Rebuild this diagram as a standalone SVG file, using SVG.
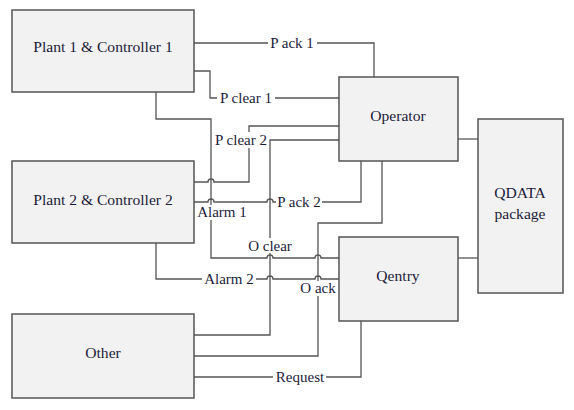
<svg xmlns="http://www.w3.org/2000/svg" width="574" height="410" viewBox="0 0 574 410">
<style>
.box{fill:#f2f2f2;stroke:#555;stroke-width:1.5}
.t{font-family:"Liberation Serif",serif;font-size:15px;fill:#1c1c3a;text-anchor:middle}
.bt{font-size:15.6px}
.ln{fill:none;stroke:#555;stroke-width:1.3}
.bg{fill:#fff}
</style>
<rect width="574" height="410" fill="#fff"/>
<g id="connectors">
<path class="ln" d="M194,43 H374 V77"/>
<path class="ln" d="M194,71 H210 V98 H339"/>
<path class="ln" d="M156,92 V119 H211 V258 H267 a3,3 0 0 1 6,0 H315 a3,3 0 0 1 6,0 H339"/>
<path class="ln" d="M339,126 H249 V182 H214 a3,3 0 0 0 -6,0 H194"/>
<path class="ln" d="M339,140 H270 V335 H194"/>
<path class="ln" d="M194,202 H208 a3,3 0 0 1 6,0 H267 a3,3 0 0 1 6,0 H361 V161"/>
<path class="ln" d="M382,161 V223 H318 V356 H194"/>
<path class="ln" d="M156,243 V279 H267 a3,3 0 0 1 6,0 H315 a3,3 0 0 1 6,0 H339"/>
<path class="ln" d="M194,377 H361 V321"/>
<path class="ln" d="M458,139 H478"/>
<path class="ln" d="M458,258 H478"/>
<g id="labels">
<rect class="bg" x="268" y="35" width="49" height="16"/>
<text class="t" x="292" y="48">P ack 1</text>
<rect class="bg" x="217" y="90" width="58" height="16"/>
<text class="t" x="246" y="103">P clear 1</text>
<rect class="bg" x="213" y="132" width="56" height="16"/>
<text class="t" x="241" y="145">P clear 2</text>
<rect class="bg" x="196" y="205" width="52" height="15"/>
<text class="t" x="222" y="217">Alarm 1</text>
<rect class="bg" x="276" y="194" width="46" height="16"/>
<text class="t" x="299" y="207">P ack 2</text>
<rect class="bg" x="246" y="238" width="48" height="15"/>
<text class="t" x="270" y="251">O clear</text>
<rect class="bg" x="202" y="271" width="54" height="15"/>
<text class="t" x="229" y="284">Alarm 2</text>
<rect class="bg" x="299" y="281" width="39" height="15"/>
<text class="t" x="318" y="293">O ack</text>
<rect class="bg" x="273" y="369" width="53" height="16"/>
<text class="t" x="300" y="382">Request</text>
</g>
</g>
<g id="plant1"><rect class="box" x="12" y="10" width="182" height="82"/><text class="t bt" x="103" y="52">Plant 1 &amp; Controller 1</text></g>
<g id="plant2"><rect class="box" x="12" y="161" width="182" height="82"/><text class="t bt" x="103" y="205">Plant 2 &amp; Controller 2</text></g>
<g id="other"><rect class="box" x="12" y="314" width="182" height="84"/><text class="t bt" x="103" y="358">Other</text></g>
<g id="operator"><rect class="box" x="339" y="77" width="119" height="84"/><text class="t bt" x="398" y="121">Operator</text></g>
<g id="qentry"><rect class="box" x="339" y="237" width="119" height="84"/><text class="t bt" x="398" y="281">Qentry</text></g>
<g id="qdata"><rect class="box" x="478" y="119" width="85" height="174"/><text class="t bt" x="520" y="198">QDATA</text><text class="t bt" x="520" y="219">package</text></g>
</svg>
